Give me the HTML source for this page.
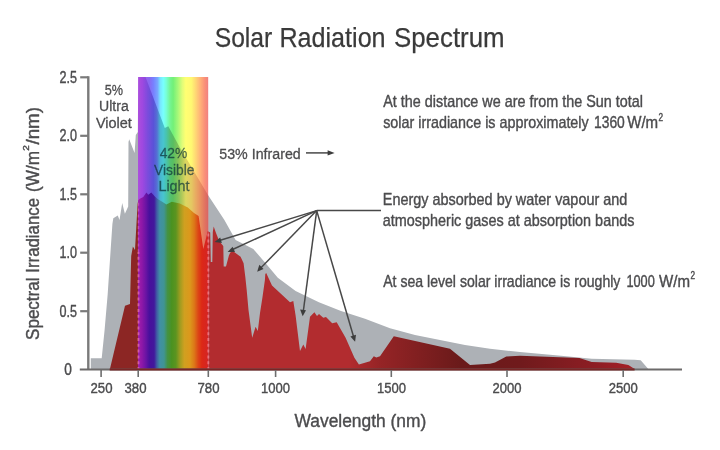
<!DOCTYPE html>
<html>
<head>
<meta charset="utf-8">
<title>Solar Radiation Spectrum</title>
<style>
  html, body { margin: 0; padding: 0; background: #ffffff; }
  body { width: 720px; height: 450px; overflow: hidden; font-family: "Liberation Sans", sans-serif; }
  svg { display: block; filter: blur(0.4px); }
  text { font-family: "Liberation Sans", sans-serif; fill: #4c4c4e; stroke: #4c4c4e; stroke-width: 0.4px; stroke-linejoin: round; }
  text.lb { stroke-width: 0.3px; }
  text.tt { fill: #3a3a3a; stroke: #3a3a3a; stroke-width: 0.25px; }
</style>
</head>
<body>
<svg width="720" height="450" viewBox="0 0 720 450">
  <defs>
    <!-- pastel rainbow (over white) -->
    <linearGradient id="gPastel" gradientUnits="userSpaceOnUse" x1="138" y1="0" x2="208.2" y2="0">
      <stop offset="0" stop-color="#c484ee"/>
      <stop offset="0.06" stop-color="#a262e6"/>
      <stop offset="0.16" stop-color="#8868f0"/>
      <stop offset="0.22" stop-color="#7880ff"/>
      <stop offset="0.28" stop-color="#78a8ff"/>
      <stop offset="0.315" stop-color="#78e4ff"/>
      <stop offset="0.36" stop-color="#78ffff"/>
      <stop offset="0.4" stop-color="#78ffd8"/>
      <stop offset="0.46" stop-color="#74f490"/>
      <stop offset="0.5" stop-color="#72f078"/>
      <stop offset="0.57" stop-color="#a8f878"/>
      <stop offset="0.63" stop-color="#e0fc78"/>
      <stop offset="0.68" stop-color="#ffff72"/>
      <stop offset="0.76" stop-color="#fff872"/>
      <stop offset="0.82" stop-color="#ffd874"/>
      <stop offset="0.89" stop-color="#ffb078"/>
      <stop offset="0.95" stop-color="#fa9078"/>
      <stop offset="1" stop-color="#f08080"/>
    </linearGradient>
    <!-- mid rainbow (over grey curve) -->
    <linearGradient id="gMid" gradientUnits="userSpaceOnUse" x1="138" y1="0" x2="208.2" y2="0">
      <stop offset="0" stop-color="#ac50dc"/>
      <stop offset="0.06" stop-color="#a048e0"/>
      <stop offset="0.14" stop-color="#7a4cdc"/>
      <stop offset="0.22" stop-color="#5a52d8"/>
      <stop offset="0.27" stop-color="#5470d4"/>
      <stop offset="0.315" stop-color="#48b4d0"/>
      <stop offset="0.36" stop-color="#48c4d0"/>
      <stop offset="0.4" stop-color="#48c4b0"/>
      <stop offset="0.46" stop-color="#54c070"/>
      <stop offset="0.5" stop-color="#58be60"/>
      <stop offset="0.57" stop-color="#84c25a"/>
      <stop offset="0.63" stop-color="#b4ca5a"/>
      <stop offset="0.68" stop-color="#dcd660"/>
      <stop offset="0.76" stop-color="#e4c862"/>
      <stop offset="0.82" stop-color="#e8ac62"/>
      <stop offset="0.89" stop-color="#e88e60"/>
      <stop offset="0.95" stop-color="#e27460"/>
      <stop offset="1" stop-color="#d86464"/>
    </linearGradient>
    <!-- saturated rainbow (over red curve) -->
    <linearGradient id="gSat" gradientUnits="userSpaceOnUse" x1="138" y1="0" x2="208.2" y2="0">
      <stop offset="0" stop-color="#a020ac"/>
      <stop offset="0.05" stop-color="#9018a8"/>
      <stop offset="0.11" stop-color="#6c14a4"/>
      <stop offset="0.16" stop-color="#48109c"/>
      <stop offset="0.23" stop-color="#42189c"/>
      <stop offset="0.27" stop-color="#4060a4"/>
      <stop offset="0.31" stop-color="#4090a4"/>
      <stop offset="0.37" stop-color="#409494"/>
      <stop offset="0.42" stop-color="#449244"/>
      <stop offset="0.48" stop-color="#4a9220"/>
      <stop offset="0.54" stop-color="#5c9420"/>
      <stop offset="0.6" stop-color="#a09c20"/>
      <stop offset="0.66" stop-color="#d0a020"/>
      <stop offset="0.74" stop-color="#dc981c"/>
      <stop offset="0.8" stop-color="#dc7818"/>
      <stop offset="0.86" stop-color="#dc4416"/>
      <stop offset="0.91" stop-color="#dc2816"/>
      <stop offset="1" stop-color="#d42424"/>
    </linearGradient>
    <!-- infrared part of lower curve -->
    <linearGradient id="gIR" gradientUnits="userSpaceOnUse" x1="208" y1="0" x2="636" y2="0">
      <stop offset="0"     stop-color="#b22c2f"/>
      <stop offset="0.33"  stop-color="#b22c2f"/>
      <stop offset="0.40"  stop-color="#962426"/>
      <stop offset="0.59"  stop-color="#6a1a1a"/>
      <stop offset="0.73"  stop-color="#701a1c"/>
      <stop offset="0.91"  stop-color="#8e1e24"/>
      <stop offset="1"     stop-color="#a82028"/>
    </linearGradient>

    <!-- upper (grey) curve -->
    <path id="pGrey" d="M90.8,370 L90.8,358.3 L101.7,358.3 L104.6,330 L107.7,294 L110.7,249 L112.4,224 L113.3,218.2 L117.8,215.5 L119.5,220 L122.2,203.1 L124.9,213.7 L128.2,206.6 L128.5,142 L129.2,139.2 L134.6,153 L135.8,135 L137.8,132 L138.3,77 L145.5,77 L164.8,128 L168.3,126.3 L179.4,146.7 L208.3,195.5 L224.4,220 L235.6,240 L253.3,249 L266.7,264.4 L277.8,277.8 L295.6,291 L318.9,302.2 L341,311 L365,318.8 L390,328.3 L415,335 L440,340 L465,345 L490,348.8 L520,352 L561,355.7 L591.7,358.8 L634.5,359.7 L640.7,360.3 L648.3,369 L648.3,370 Z"/>
    <!-- lower (red) curve -->
    <path id="pRed" d="M109.7,370 L125,305.8 L130,304 L131.2,256 L132.9,246.6 L135,250 L137.6,204 L138.4,199.6 L143.3,196.9 L146.4,192.4 L148.2,194.7 L151.3,192.4 L154.9,196.4 L157.6,199.1 L163.8,202.7 L166.4,204.4 L171.8,201.8 L179.8,203.6 L187.8,207.6 L194,212.9 L198.6,216 L203.3,248.9 L207.8,231 L210.2,232.5 L210.8,262 L212.3,262 L212.8,232 L213.7,226.5 L216,233 L219.3,241.3 L222.7,245.3 L223.3,246.2 L223.7,266.4 L226,266.6 L228.9,255.6 L230.3,252.5 L232.8,251 L240.6,256.7 L243.6,263.3 L245.3,276.7 L246.7,290 L248.5,310 L252.2,337.8 L255.6,326.7 L257.8,331 L260,313 L262.5,297 L264.9,280 L265.3,274 L266.2,273.1 L272,285.6 L290,302.2 L293.3,301 L295.6,315.6 L300,351 L303.3,344.4 L305.6,349 L310,316.7 L314.4,312.2 L317,316 L319,314 L323.3,317.8 L326,317 L332.2,323.3 L336.7,322.2 L345.6,337.8 L354.4,357.8 L358.9,364.4 L370,361.3 L373.8,356.3 L376.3,357.5 L380,356.3 L393.8,336.3 L450,348.8 L470,365 L490,363.8 L495,362.5 L506.3,356.5 L520,355.8 L579.5,357.9 L591.7,361.9 L616.2,362.8 L628.4,365 L634.6,369 L634.6,370 Z"/>

    <clipPath id="cBand"><rect x="138" y="77" width="70.2" height="293"/></clipPath>
    <clipPath id="cUV"><rect x="80" y="60" width="58" height="312"/></clipPath>
    <clipPath id="cIR"><rect x="208.2" y="60" width="480" height="312"/></clipPath>
    <clipPath id="cRed"><use href="#pRed"/></clipPath>
  </defs>

  <rect x="0" y="0" width="720" height="450" fill="#ffffff"/>

  <!-- grey curve -->
  <use href="#pGrey" fill="#adb1b6"/>
  <!-- red curve, UV + IR -->
  <g clip-path="url(#cUV)"><use href="#pRed" fill="#8c2624"/></g>
  <g clip-path="url(#cIR)"><use href="#pRed" fill="url(#gIR)"/></g>

  <!-- visible band -->
  <rect x="138" y="77" width="70.2" height="293" fill="url(#gPastel)"/>
  <g clip-path="url(#cBand)">
    <use href="#pGrey" fill="url(#gMid)"/>
    <use href="#pRed" fill="url(#gSat)"/>
  </g>

  <!-- dashed guide lines at 380 and 780 -->
  <g clip-path="url(#cRed)">
    <line x1="138.4" y1="370" x2="138.4" y2="252" stroke="#ff90b8" stroke-width="2" stroke-dasharray="3 2.8" opacity="0.5"/>
    <line x1="138.4" y1="252.2" x2="138.4" y2="190" stroke="#ffa0d8" stroke-width="1.6" stroke-dasharray="3 2.8" opacity="0.3"/>
    <line x1="208.3" y1="370" x2="208.3" y2="225" stroke="#ff98a8" stroke-width="2" stroke-dasharray="3 2.8" opacity="0.55"/>
  </g>

  <!-- axes -->
  <g stroke="#7a7a7a" stroke-width="2.4" fill="none">
    <line x1="88.3" y1="76.2" x2="88.3" y2="370"/>
  </g>
  <g stroke="#7a7a7a" stroke-width="2.2" fill="none">
    <line x1="80.2" y1="77.3" x2="88.4" y2="77.3"/>
    <line x1="80.2" y1="135.8" x2="88.4" y2="135.8"/>
    <line x1="80.2" y1="194.3" x2="88.4" y2="194.3"/>
    <line x1="80.2" y1="252.7" x2="88.4" y2="252.7"/>
    <line x1="80.2" y1="311.2" x2="88.4" y2="311.2"/>
  </g>
  <line x1="79.8" y1="369.6" x2="682" y2="369.6" stroke="#6c6a6a" stroke-width="2"/>
  <line x1="109.7" y1="369.6" x2="634.6" y2="369.6" stroke="#782626" stroke-width="2"/>
  <g stroke="#6e6e6e" stroke-width="1.6">
    <line x1="101.1" y1="370" x2="101.1" y2="377"/>
    <line x1="138.2" y1="370" x2="138.2" y2="377"/>
    <line x1="208.3" y1="370" x2="208.3" y2="377"/>
    <line x1="275.6" y1="370" x2="275.6" y2="377"/>
    <line x1="391.3" y1="370" x2="391.3" y2="377"/>
    <line x1="507" y1="370" x2="507" y2="377"/>
    <line x1="623.2" y1="370" x2="623.2" y2="377"/>
  </g>

  <!-- annotation arrows -->
  <g stroke="#484848" stroke-width="1.5" fill="none">
    <line x1="316.7" y1="210.6" x2="381" y2="210.6"/>
    <line x1="316.7" y1="210.6" x2="217" y2="241.3"/>
    <line x1="316.7" y1="210.6" x2="231" y2="250.3"/>
    <line x1="316.7" y1="210.6" x2="260" y2="268.8"/>
    <line x1="316.7" y1="210.6" x2="303.2" y2="312"/>
    <line x1="316.7" y1="210.6" x2="353.8" y2="337.5"/>
    <line x1="306" y1="152.9" x2="330" y2="152.9"/>
  </g>
  <g fill="#3c3c3c" stroke="none">
    <polygon points="334.6,152.9 327.6,150.2 327.6,155.6"/>
    <polygon points="214.6,242 220.2,237.5 221.9,243.1"/>
    <polygon points="227.6,251.9 232.6,246.8 235,252.1"/>
    <polygon points="257.2,271.7 259.3,264.8 263.5,268.9"/>
    <polygon points="302.7,316.2 300.1,309.5 306,310.3"/>
    <polygon points="355.1,341.8 350.4,336.4 356,334.8"/>
  </g>

  <!-- title -->
  <g font-size="27.6">
    <text class="tt" x="214.7" y="46.9" textLength="57.6" lengthAdjust="spacingAndGlyphs">Solar</text>
    <text class="tt" x="279.4" y="46.9" textLength="106.2" lengthAdjust="spacingAndGlyphs">Radiation</text>
    <text class="tt" x="394" y="46.9" textLength="110.6" lengthAdjust="spacingAndGlyphs">Spectrum</text>
  </g>

  <!-- y tick labels -->
  <g font-size="15.6" text-anchor="end">
    <text x="77" y="82.7" textLength="17.5" lengthAdjust="spacingAndGlyphs">2.5</text>
    <text x="77" y="141.2" textLength="17.5" lengthAdjust="spacingAndGlyphs">2.0</text>
    <text x="77" y="199.7" textLength="17.5" lengthAdjust="spacingAndGlyphs">1.5</text>
    <text x="77" y="258.1" textLength="17.5" lengthAdjust="spacingAndGlyphs">1.0</text>
    <text x="77" y="316.6" textLength="17.5" lengthAdjust="spacingAndGlyphs">0.5</text>
    <text x="71.8" y="374.9" textLength="7.6" lengthAdjust="spacingAndGlyphs">0</text>
  </g>
  <!-- x tick labels -->
  <g font-size="15.2" text-anchor="middle">
    <text x="101.5" y="393" textLength="22" lengthAdjust="spacingAndGlyphs">250</text>
    <text x="135.5" y="393" textLength="22" lengthAdjust="spacingAndGlyphs">380</text>
    <text x="208.5" y="393" textLength="22" lengthAdjust="spacingAndGlyphs">780</text>
    <text x="275.6" y="393" textLength="29" lengthAdjust="spacingAndGlyphs">1000</text>
    <text x="391.5" y="393" textLength="29" lengthAdjust="spacingAndGlyphs">1500</text>
    <text x="507" y="393" textLength="29" lengthAdjust="spacingAndGlyphs">2000</text>
    <text x="623.2" y="393" textLength="29" lengthAdjust="spacingAndGlyphs">2500</text>
  </g>

  <!-- axis titles -->
  <text x="294.5" y="427.1" font-size="18.8" textLength="131.8" lengthAdjust="spacingAndGlyphs">Wavelength (nm)</text>
  <g transform="translate(38.8,0) rotate(-90)" font-size="18.5">
    <text x="-339.9" y="0" textLength="62.4" lengthAdjust="spacingAndGlyphs">Spectral</text>
    <text x="-272.7" y="0" textLength="74.7" lengthAdjust="spacingAndGlyphs">Irradiance</text>
    <text x="-192" y="0" textLength="41" lengthAdjust="spacingAndGlyphs">(W/m</text>
    <text x="-150.8" y="-9.4" font-size="9.5" textLength="5.6" lengthAdjust="spacingAndGlyphs">2</text>
    <text x="-144.6" y="0" textLength="37.6" lengthAdjust="spacingAndGlyphs">/nm)</text>
  </g>

  <!-- band labels -->
  <g font-size="15.4" text-anchor="middle">
    <text class="lb" x="113.9" y="95" textLength="18.3" lengthAdjust="spacingAndGlyphs">5%</text>
    <text class="lb" x="113.9" y="111.3" textLength="29.7" lengthAdjust="spacingAndGlyphs">Ultra</text>
    <text class="lb" x="113.9" y="127.7" textLength="36" lengthAdjust="spacingAndGlyphs">Violet</text>
  </g>
  <g font-size="15.4" text-anchor="middle" style="fill:#0c3036" opacity="0.72">
    <text x="173.5" y="158" textLength="27.6" lengthAdjust="spacingAndGlyphs" style="fill:#0c3036;stroke:#0c3036;stroke-width:0.3px">42%</text>
    <text x="174.2" y="174.9" textLength="40.4" lengthAdjust="spacingAndGlyphs" style="fill:#0c3036;stroke:#0c3036;stroke-width:0.3px">Visible</text>
    <text x="174" y="191.3" textLength="31.2" lengthAdjust="spacingAndGlyphs" style="fill:#0c3036;stroke:#0c3036;stroke-width:0.3px">Light</text>
  </g>
  <text x="219.3" y="159.3" font-size="15.4" textLength="81.4" lengthAdjust="spacingAndGlyphs" style="stroke-width:0.3px">53% Infrared</text>

  <!-- right-hand notes -->
  <g font-size="16.4">
    <text x="383.2" y="107.4" textLength="259.8" lengthAdjust="spacingAndGlyphs">At the distance we are from the Sun total</text>
    <text x="383.2" y="128" textLength="205.5" lengthAdjust="spacingAndGlyphs">solar irradiance is approximately</text>
    <text x="594" y="128" textLength="30.8" lengthAdjust="spacingAndGlyphs">1360</text>
    <text x="627.2" y="128" textLength="31" lengthAdjust="spacingAndGlyphs">W/m</text>
    <text x="658.6" y="120.6" font-size="10.4" textLength="4.6" lengthAdjust="spacingAndGlyphs">2</text>
    <text x="382.8" y="204.6" textLength="244.5" lengthAdjust="spacingAndGlyphs">Energy absorbed by water vapour and</text>
    <text x="382.8" y="226" textLength="251.6" lengthAdjust="spacingAndGlyphs">atmospheric gases at absorption bands</text>
    <text x="383.2" y="286.6" textLength="237.2" lengthAdjust="spacingAndGlyphs">At sea level solar irradiance is roughly</text>
    <text x="626.4" y="286.6" textLength="28.4" lengthAdjust="spacingAndGlyphs">1000</text>
    <text x="659" y="286.6" textLength="31" lengthAdjust="spacingAndGlyphs">W/m</text>
    <text x="690.4" y="279.4" font-size="10.4" textLength="4.6" lengthAdjust="spacingAndGlyphs">2</text>
  </g>
</svg>
</body>
</html>
